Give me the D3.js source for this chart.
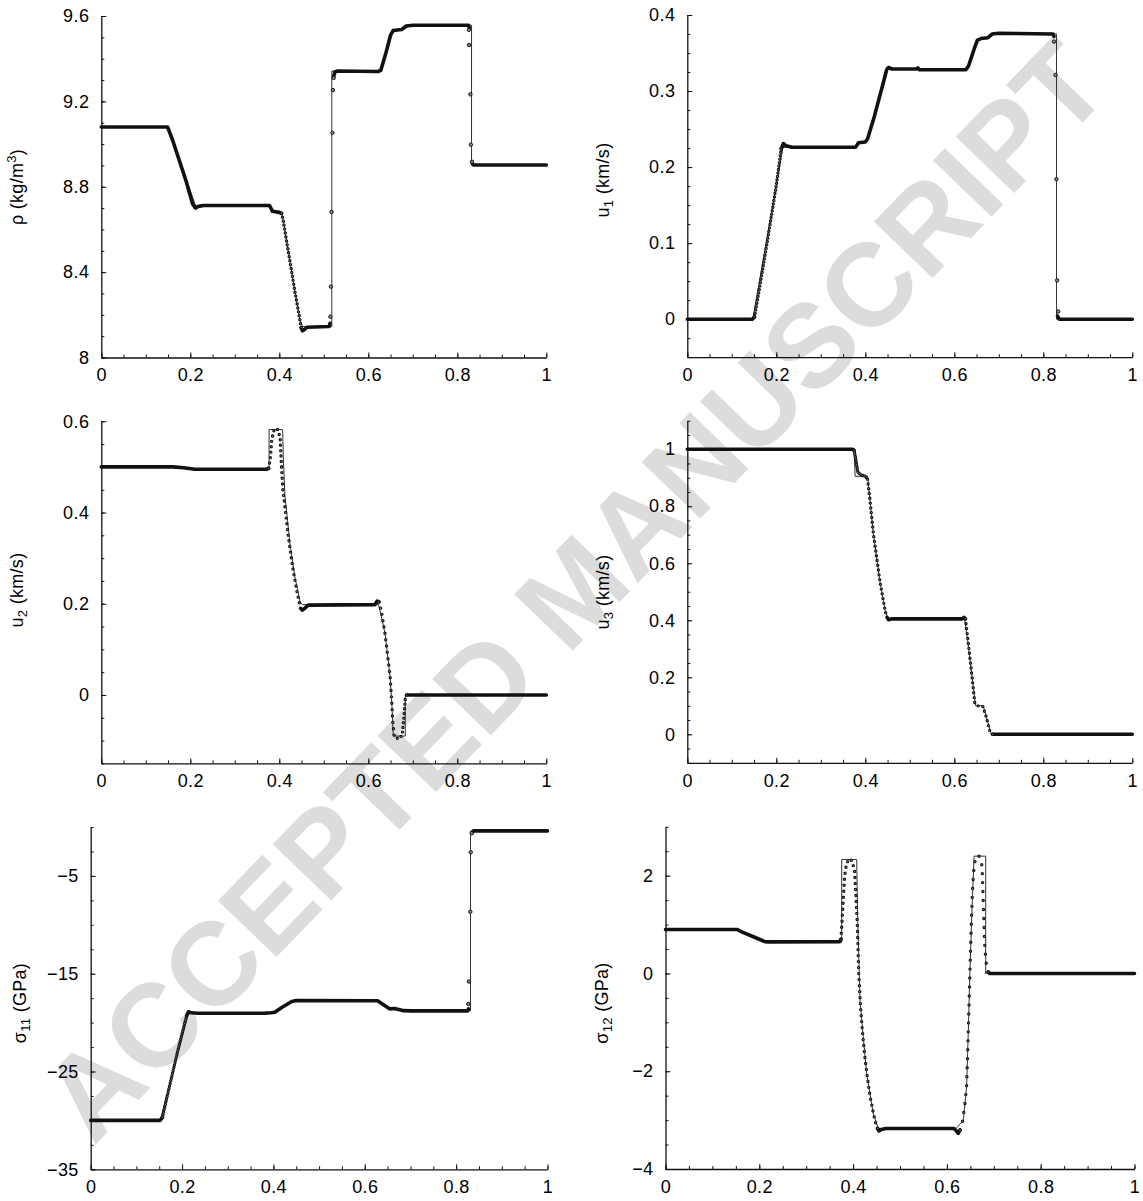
<!DOCTYPE html>
<html>
<head>
<meta charset="utf-8">
<script src="https://cdn.jsdelivr.net/npm/d3@7"></script>
<style>
  body { margin: 0; background: #fff; }
  svg text { font-family: "Liberation Sans", Arial, sans-serif; }
</style>
</head>
<body>
<svg id="chart" width="1143" height="1201"></svg>
<script>
// ---- tick values ----
var xMajor = [0, 0.2, 0.4, 0.6, 0.8, 1];
var xMinor = d3.range(0, 1.0001, 0.05);

var rhoMajor = [8, 8.4, 8.8, 9.2, 9.6];
var rhoMinor = d3.range(8, 9.6001, 0.1);
var u1Major = [0, 0.1, 0.2, 0.3, 0.4];
var u1Minor = d3.range(-0.05, 0.4001, 0.025);
var u2Major = [0, 0.2, 0.4, 0.6];
var u2Minor = d3.range(-0.15, 0.6001, 0.05);
var u3Major = [0, 0.2, 0.4, 0.6, 0.8, 1];
var u3Minor = d3.range(-0.1, 1.1001, 0.05);
var s11Major = [-35, -25, -15, -5];
var s11Minor = d3.range(-35, 0.001, 2.5);
var s12Major = [-4, -2, 0, 2];
var s12Minor = d3.range(-4, 3.001, 0.5);

// ---- density ----
var rhoExact = [[0,9.08],[0.150,9.08],[0.212,8.71],[0.380,8.71],[0.382,8.68],[0.405,8.68],[0.409,8.64],[0.416,8.55],
  [0.424,8.45],[0.435,8.31],[0.446,8.18],[0.452,8.145],[0.518,8.145],[0.518,9.342],[0.626,9.342],[0.656,9.535],
  [0.678,9.535],[0.681,9.557],[0.832,9.557],[0.832,8.902],[1,8.902]];
var rhoBand = [[0,9.08],[0.149,9.08],[0.16,9.02],[0.19,8.83],[0.205,8.72],[0.212,8.700],[0.218,8.708],[0.23,8.712],
  [0.378,8.712],[0.385,8.685],[0.400,8.680],[0.405,8.675], null,
  [0.449,8.14],[0.452,8.125],[0.456,8.13],[0.462,8.142],[0.512,8.145],[0.514,8.16], null,
  [0.522,9.315],[0.525,9.338],[0.53,9.342],[0.622,9.340],[0.628,9.345],[0.64,9.43],[0.65,9.51],[0.656,9.532],
  [0.675,9.537],[0.686,9.553],[0.70,9.557],[0.825,9.557],[0.827,9.545], null,
  [0.833,8.915],[0.836,8.902],[1,8.902]];
var rhoBeads = [
  {pts: [[0.405,8.675],[0.409,8.64],[0.416,8.55],[0.424,8.45],[0.435,8.31],[0.446,8.18],[0.449,8.14]], n: 30}
];
var rhoDots = [[0.5148,8.191],[0.516,8.332],[0.5175,8.682],[0.5195,9.053],[0.5204,9.253],[0.5222,9.31],
  [0.826,9.535],[0.8265,9.464],[0.8295,9.233],[0.8305,8.997],[0.833,8.917]];

// ---- u1 ----
var u1Exact = [[0,0],[0.147,0],[0.215,0.226],[0.380,0.226],[0.382,0.233],[0.402,0.233],[0.450,0.329],[0.628,0.329],
  [0.655,0.369],[0.678,0.369],[0.680,0.375],[0.8297,0.375],[0.8297,0],[1,0]];
var u1Band = [[0,0],[0.146,0],[0.151,0.003], null,
  [0.211,0.224],[0.216,0.231],[0.222,0.228],[0.235,0.226],[0.378,0.226],[0.385,0.232],[0.400,0.233],[0.405,0.237],
  [0.42,0.266],[0.44,0.31],[0.448,0.328],[0.452,0.331],[0.46,0.329],[0.515,0.329],[0.518,0.3305],[0.521,0.328],
  [0.626,0.328],[0.632,0.333],[0.645,0.356],[0.652,0.367],[0.66,0.369],[0.675,0.370],[0.685,0.375],[0.70,0.376],
  [0.822,0.375],[0.824,0.372], null,
  [0.832,0.004],[0.836,0],[1,0]];
var u1Beads = [
  {pts: [[0.151,0.003],[0.16,0.033],[0.18,0.103],[0.20,0.176],[0.211,0.224]], n: 50}
];
var u1Dots = [[0.824,0.365],[0.8275,0.321],[0.8295,0.184],[0.831,0.051],[0.8335,0.01]];

// ---- u2 ----
var u2Exact = [[0,0.5],[0.15,0.5],[0.21,0.495],[0.377,0.495],[0.377,0.582],[0.4075,0.582],[0.409,0.52],
  [0.4126,0.438],[0.424,0.332],[0.435,0.259],[0.4465,0.205],[0.452,0.198],[0.623,0.198],[0.632,0.16],
  [0.6375,0.135],[0.643,0.09],[0.649,0.04],[0.653,-0.02],[0.656,-0.09],[0.683,-0.09],[0.683,0],[1,0]];
var u2Band = [[0,0.5],[0.16,0.5],[0.185,0.498],[0.21,0.495],[0.372,0.495],[0.376,0.497], null,
  [0.448,0.19],[0.452,0.186],[0.457,0.19],[0.465,0.197],[0.615,0.198],[0.62,0.206],[0.624,0.204], null,
  [0.686,0.0],[0.69,0],[1,0]];
var u2Beads = [
  {pts: [[0.376,0.497],[0.380,0.52],[0.383,0.56],[0.388,0.58],[0.393,0.585],[0.398,0.58],[0.402,0.56],[0.405,0.50]], n: 16},
  {pts: [[0.405,0.50],[0.408,0.45],[0.413,0.41],[0.42,0.35],[0.43,0.28],[0.44,0.225],[0.448,0.19]], n: 26},
  {pts: [[0.624,0.204],[0.63,0.18],[0.6375,0.135],[0.643,0.09],[0.649,0.04],[0.653,-0.02],[0.655,-0.06],[0.658,-0.088]], n: 22},
  {pts: [[0.658,-0.088],[0.664,-0.095],[0.67,-0.095],[0.676,-0.088],[0.680,-0.05],[0.683,-0.01],[0.686,0]], n: 12}
];
var u2Dots = [];

// ---- u3 ----
var u3Exact = [[0,1],[0.375,1],[0.377,0.905],[0.405,0.905],[0.41,0.83],[0.418,0.705],[0.433,0.535],[0.445,0.43],
  [0.452,0.405],[0.623,0.405],[0.63,0.33],[0.64,0.2],[0.648,0.1],[0.665,0.1],[0.683,0],[1,0]];
var u3Band = [[0,1],[0.372,1],[0.375,0.995], null,
  [0.449,0.41],[0.452,0.402],[0.46,0.405],[0.618,0.405],[0.622,0.41],[0.625,0.405], null,
  [0.686,0.0],[0.69,0],[1,0]];
var u3Beads = [
  {pts: [[0.375,0.995],[0.379,0.96],[0.383,0.92],[0.390,0.91],[0.400,0.905],[0.405,0.895]], n: 18},
  {pts: [[0.405,0.895],[0.41,0.83],[0.418,0.705],[0.433,0.535],[0.445,0.43],[0.449,0.41]], n: 30},
  {pts: [[0.625,0.405],[0.63,0.34],[0.64,0.2],[0.646,0.11],[0.652,0.1],[0.664,0.098],[0.672,0.06],[0.68,0.01],[0.686,0]], n: 26}
];
var u3Dots = [];

// ---- sigma11 ----
var s11Exact = [[0,-30],[0.152,-30],[0.214,-19.05],[0.380,-19.05],[0.382,-18.95],[0.403,-18.95],[0.447,-17.76],
  [0.628,-17.76],[0.653,-18.55],[0.678,-18.55],[0.680,-18.8],[0.8315,-18.8],[0.8315,-0.4],[1,-0.4]];
var s11Band = [[0,-30],[0.152,-30],[0.157,-29.7], null,
  [0.210,-19.3],[0.214,-18.89],[0.22,-19.0],[0.235,-19.05],[0.38,-19.05],[0.395,-19.0],[0.403,-18.95],
  [0.42,-18.4],[0.44,-17.85],[0.45,-17.75],[0.628,-17.76],[0.645,-18.3],[0.655,-18.6],[0.665,-18.55],
  [0.685,-18.78],[0.70,-18.8],[0.825,-18.8],[0.827,-18.6], null,
  [0.835,-0.6],[0.838,-0.4],[1,-0.4]];
var s11Beads = [
  {pts: [[0.157,-29.7],[0.17,-27.0],[0.19,-23.0],[0.205,-20.2],[0.210,-19.3]], n: 40}
];
var s11Dots = [[0.8266,-18.1],[0.828,-15.8],[0.831,-8.66],[0.832,-2.59],[0.834,-0.64]];

// ---- sigma12 ----
var s12Exact = [[0,0.9],[0.152,0.9],[0.212,0.647],[0.3757,0.647],[0.3757,2.33],[0.4077,2.33],[0.4085,1.84],
  [0.410,1.06],[0.4147,-0.546],[0.4217,-1.30],[0.4289,-2.05],[0.443,-2.87],[0.4538,-3.17],[0.620,-3.17],
  [0.635,-3.0],[0.642,-2.32],[0.6455,-1.23],[0.649,0],[0.653,1.19],[0.658,2.40],[0.6827,2.40],[0.6827,0],[1,0]];
var s12Band = [[0,0.9],[0.152,0.9],[0.165,0.84],[0.19,0.74],[0.212,0.65],[0.22,0.647],[0.372,0.65],[0.374,0.7], null,
  [0.452,-3.17],[0.455,-3.22],[0.46,-3.19],[0.47,-3.17],[0.615,-3.17],[0.62,-3.22],[0.624,-3.27],[0.628,-3.2], null,
  [0.688,0.03],[0.692,0],[1,0]];
var s12Beads = [
  {pts: [[0.374,0.7],[0.376,1.0],[0.379,1.5],[0.382,2.0],[0.386,2.25],[0.392,2.35],[0.398,2.3],[0.403,2.1],
    [0.406,1.6],[0.409,1.0],[0.412,0.0],[0.416,-0.7],[0.42,-1.2],[0.425,-1.7],[0.43,-2.1],[0.436,-2.5],
    [0.443,-2.85],[0.449,-3.1],[0.452,-3.17]], n: 60},
  {pts: [[0.628,-3.2],[0.633,-3.05],[0.638,-2.7],[0.642,-2.3],[0.6455,-1.23],[0.649,0],[0.652,1.0],[0.655,1.8],
    [0.658,2.2],[0.662,2.38],[0.666,2.42],[0.670,2.38],[0.675,2.2],[0.678,1.3],[0.681,0.5],[0.684,0.2],[0.688,0.03]], n: 45}
];
var s12Dots = [];

// ---- layout ----
var panels = [
  {left:101.3, right:546.3, top:16, bottom:357.5, yDomain:[8,9.6], major:rhoMajor, minor:rhoMinor,
   label:[["ρ (kg/m",0],["3",-1],[")",0]], labelX:23, labelY:187,
   exact:rhoExact, band:rhoBand, beads:rhoBeads, dots:rhoDots},
  {left:687.3, right:1132.3, top:15, bottom:357.2, yDomain:[-0.05,0.4], major:u1Major, minor:u1Minor,
   label:[["u",0],["1",1],[" (km/s)",0]], labelX:609, labelY:180,
   exact:u1Exact, band:u1Band, beads:u1Beads, dots:u1Dots},
  {left:101.3, right:546.3, top:421.3, bottom:763.4, yDomain:[-0.15,0.6], major:u2Major, minor:u2Minor,
   label:[["u",0],["2",1],[" (km/s)",0]], labelX:23, labelY:590,
   exact:u2Exact, band:u2Band, beads:u2Beads, dots:u2Dots},
  {left:687.3, right:1132.3, top:420.7, bottom:762.8, yDomain:[-0.1,1.1], major:u3Major, minor:u3Minor,
   label:[["u",0],["3",1],[" (km/s)",0]], labelX:609, labelY:592,
   exact:u3Exact, band:u3Band, beads:u3Beads, dots:u3Dots},
  {left:90.7, right:547.5, top:827, bottom:1169.3, yDomain:[-35,0], major:s11Major, minor:s11Minor,
   label:[["σ",0],["11",1],[" (GPa)",0]], labelX:26, labelY:1003,
   exact:s11Exact, band:s11Band, beads:s11Beads, dots:s11Dots},
  {left:665.5, right:1134.5, top:826.8, bottom:1169, yDomain:[-4,3], major:s12Major, minor:s12Minor,
   label:[["σ",0],["12",1],[" (GPa)",0]], labelX:608, labelY:1003,
   exact:s12Exact, band:s12Band, beads:s12Beads, dots:s12Dots}
];

var svg = d3.select("#chart");
var FONT = "'Liberation Sans', Arial, sans-serif";

// watermark behind the plots
svg.append("text")
  .attr("transform", "translate(573,589) rotate(-46)")
  .attr("text-anchor", "middle")
  .attr("dy", "0.36em")
  .attr("font-family", FONT)
  .style("font-size", "118px")
  .style("font-weight", "bold")
  .style("fill", "#dcdcdc")
  .text("ACCEPTED MANUSCRIPT");

function fmt(v) { return d3.format("~g")(+v.toFixed(4)); }

function styleAxis(sel) {
  sel.attr("font-family", FONT);
  sel.select(".domain").attr("stroke", "#111").attr("stroke-width", 1.3);
  sel.selectAll(".tick line").attr("stroke", "#111").attr("stroke-width", 1);
  sel.selectAll(".tick text").attr("fill", "#000").attr("font-family", FONT)
    .style("font-size", "18px").style("letter-spacing", "0.4px");
}

panels.forEach(function(p) {
  var x = d3.scaleLinear().domain([0, 1]).range([p.left, p.right]);
  var y = d3.scaleLinear().domain(p.yDomain).range([p.bottom, p.top]);
  var g = svg.append("g");

  // minor ticks
  g.append("g").attr("transform", "translate(0," + p.bottom + ")")
    .call(d3.axisBottom(x).tickValues(xMinor).tickSize(-3).tickFormat(""))
    .call(function(s) { s.select(".domain").remove(); s.selectAll("line").attr("stroke", "#111"); });
  g.append("g").attr("transform", "translate(" + p.left + ",0)")
    .call(d3.axisLeft(y).tickValues(p.minor).tickSize(-3).tickFormat(""))
    .call(function(s) { s.select(".domain").remove(); s.selectAll("line").attr("stroke", "#111"); });

  // major ticks + axis lines
  g.append("g").attr("transform", "translate(0," + p.bottom + ")")
    .call(d3.axisBottom(x).tickValues(xMajor).tickSize(-5).tickSizeOuter(0).tickPadding(11).tickFormat(fmt))
    .call(styleAxis);
  g.append("g").attr("transform", "translate(" + p.left + ",0)")
    .call(d3.axisLeft(y).tickValues(p.major).tickSize(-5).tickSizeOuter(0).tickPadding(12).tickFormat(fmt))
    .call(styleAxis);

  // y label
  var lab = g.append("text")
    .attr("transform", "translate(" + p.labelX + "," + p.labelY + ") rotate(-90)")
    .attr("text-anchor", "middle")
    .attr("dy", "0.35em")
    .attr("font-family", FONT)
    .style("font-size", "18px")
    .style("letter-spacing", "0.3px");
  var shift = 0;
  p.label.forEach(function(part) {
    var want = part[1] === 1 ? 4 : (part[1] === -1 ? -7 : 0);
    lab.append("tspan")
      .attr("dy", want - shift)
      .style("font-size", part[1] === 0 ? "18px" : "13px")
      .text(part[0]);
    shift = want;
  });

  var line = d3.line().defined(function(d) { return d !== null; })
    .x(function(d) { return x(d[0]); })
    .y(function(d) { return y(d[1]); });

  // exact solution
  g.append("path").datum(p.exact).attr("d", line)
    .attr("fill", "none").attr("stroke", "#333").attr("stroke-width", 1);

  // numerical solution: dense parts
  g.append("path").datum(p.band).attr("d", line)
    .attr("fill", "none").attr("stroke", "#111").attr("stroke-width", 3.6)
    .attr("stroke-linecap", "round").attr("stroke-linejoin", "round");

  // numerical solution: separated cells along slopes
  p.beads.forEach(function(b) {
    var outer = g.append("path").datum(b.pts).attr("d", line)
      .attr("fill", "none").attr("stroke", "#111").attr("stroke-width", 3.4).attr("stroke-linecap", "round");
    var len = outer.node().getTotalLength();
    var gap = len / (b.n - 1);
    outer.attr("stroke-dasharray", "0 " + gap);
    g.append("path").datum(b.pts).attr("d", line)
      .attr("fill", "none").attr("stroke", "#8a8a8a").attr("stroke-width", 1.2).attr("stroke-linecap", "round")
      .attr("stroke-dasharray", "0 " + gap);
  });

  // isolated cells in shocks
  g.selectAll(".dot").data(p.dots).enter().append("circle")
    .attr("cx", function(d) { return x(d[0]); })
    .attr("cy", function(d) { return y(d[1]); })
    .attr("r", 1.7)
    .attr("fill", "#8a8a8a").attr("stroke", "#111").attr("stroke-width", 1);
});
</script>
</body>
</html>
